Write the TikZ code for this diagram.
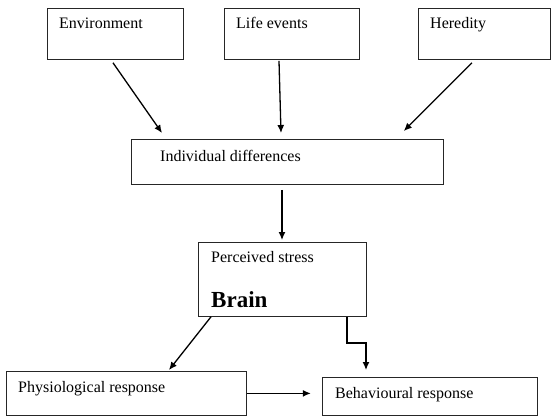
\documentclass[tikz,border=0pt]{standalone}
\usepackage{fontspec}
\setmainfont{Liberation Serif}
\usetikzlibrary{arrows.meta,calc}

\tikzset{
    box/.style={draw=black!85, line width=0.8pt, anchor=north west, inner sep=0pt},
    lbl/.style={anchor=base west, inner sep=0pt, font=\fontsize{16}{19}\selectfont},
    arr/.style={line width=1.3pt, -{Latex[length=8pt,width=7pt]}}
}

\begin{document}
\begin{tikzpicture}[x=1pt, y=-1pt]
    \useasboundingbox (0,0) rectangle (557,420);

    % Ursachen oben
    \node[box, minimum width=136pt, minimum height=51pt] (env) at (47,8) {};
    \node[box, minimum width=135pt, minimum height=51pt] (life) at (224,8) {};
    \node[box, minimum width=132pt, minimum height=51pt] (her) at (418,8) {};
    \node[lbl] (envtxt) at (59,29) {Environment};
    \node[lbl] (lifetxt) at (236,29) {Life events};
    \node[lbl] (hertxt) at (430,29) {Heredity};

    % Mitte
    \node[box, minimum width=312pt, minimum height=45pt] (indiv) at (131,139) {};
    \node[lbl] (indivtxt) at (160,161) {Individual differences};
    \node[box, minimum width=168pt, minimum height=74pt] (perc) at (198,242) {};
    \node[lbl] (perctxt) at (211,262) {Perceived stress};
    \node[lbl, font=\fontsize{23}{27}\selectfont\bfseries] (brain) at (211,307) {Brain};

    % Reaktionen
    \node[box, minimum width=240pt, minimum height=44pt] (phys) at (6,371) {};
    \node[lbl] (phystxt) at (18,392) {Physiological response};
    \node[box, minimum width=215pt, minimum height=38pt] (behav) at (322,377) {};
    \node[lbl] (behavtxt) at (335,398) {Behavioural response};

    % Pfeile
    \draw[arr] ($(env.south west)+(66,3)$) -- ($(indiv.north west)+(31,-6)$);
    \draw[arr] ($(life.south west)+(55,1)$) -- ($(indiv.north west)+(150,-6)$);
    \draw[arr] ($(her.south west)+(54,3)$) -- ($(indiv.north east)+(-40,-8)$);
    \draw[arr] ($(indiv.south west)+(151,5)$) -- ($(perc.north west)+(84,-2)$);
    \draw[arr] ($(perc.south west)+(13,0)$) -- ($(phys.north west)+(163,-1)$);
    \draw[arr] ($(perc.south west)+(149,0)$) |- ($(behav.north west)+(44,-34)$)
        -- ($(behav.north west)+(44,-7)$);
    \draw[arr] (phys.east) -- ($(phys.east)+(64,0)$);
\end{tikzpicture}
\end{document}
